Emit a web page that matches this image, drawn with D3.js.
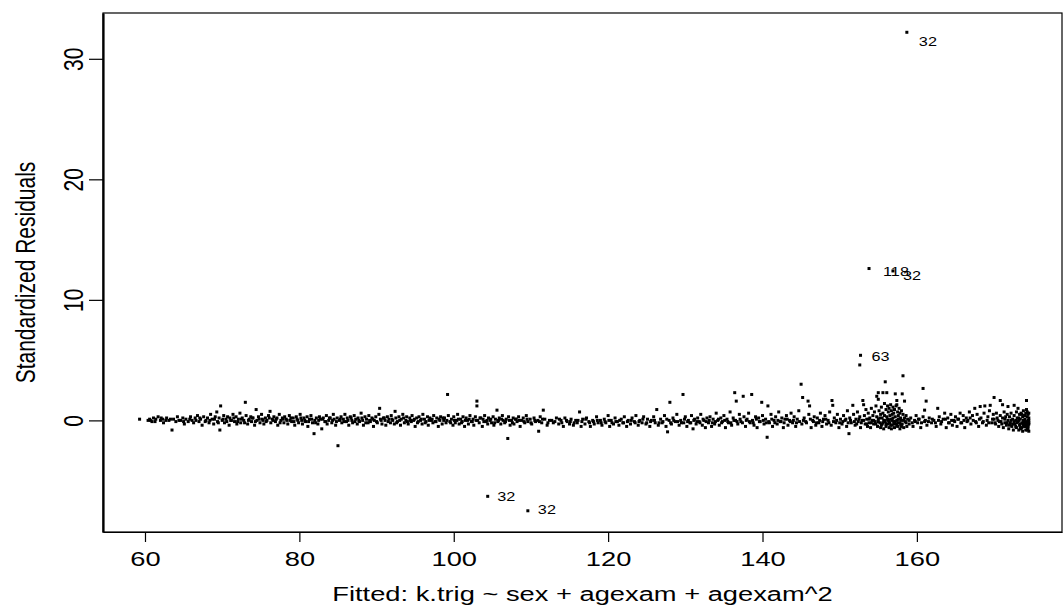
<!DOCTYPE html>
<html>
<head>
<meta charset="utf-8">
<script src="https://cdn.jsdelivr.net/npm/d3@7"></script>
<style>
  body { margin: 0; background: white; }
  text { font-family: "Liberation Sans", Arial, sans-serif; fill: black; }
</style>
</head>
<body>
<div id="graph"></div>
<script>
// tick labels and titles
const xTicks = [60, 80, 100, 120, 140, 160];
const yTicks = [0, 10, 20, 30];
const xTitle = "Fitted: k.trig ~ sex + agexam + agexam^2";
const yTitle = "Standardized Residuals";

// [fitted, standardized residual], left to right
const band60 = [[59.3,0.1],[60.4,0.0],[60.6,0.1],[60.9,-0.1],[61.1,0.2],[61.4,0.1],[61.7,0.3],[62.0,0.0],[62.3,0.1],[62.4,-0.2],[62.8,0.2],[63.1,0.0],[63.5,-0.8],[63.7,0.1],[64.0,-0.1],[64.2,0.3],[64.6,0.0],[64.9,0.2],[65.1,-0.3],[65.3,0.1],[65.6,-0.1],[65.9,0.3],[66.1,0.0],[66.3,-0.2],[66.5,0.2],[66.8,0.4],[67.0,-0.1],[67.2,0.1],[67.4,-0.4],[67.6,0.3],[67.9,0.0],[68.1,0.2],[68.3,-0.2],[68.5,0.5],[68.7,0.1],[68.9,-0.3],[69.1,0.3],[69.3,0.7],[69.4,-0.1],[69.6,0.2],[69.7,-0.8],[69.8,1.2],[70.0,0.0]];
const band70 = [[70.2,0.4],[70.3,-0.2],[70.5,0.1],[70.7,0.3],[70.9,-0.4],[71.0,0.2],[71.2,0.0],[71.4,0.5],[71.6,-0.1],[71.8,0.3],[71.9,-0.3],[72.1,0.1],[72.3,0.6],[72.4,-0.2],[72.6,0.2],[72.8,0.0],[73.0,1.5],[73.1,0.4],[73.3,-0.3],[73.5,0.1],[73.7,0.3],[73.8,-0.1],[74.0,0.2],[74.2,-0.4],[74.4,0.9],[74.5,0.0],[74.7,0.3],[74.9,-0.2],[75.1,0.5],[75.2,0.1],[75.4,-0.3],[75.6,0.2],[75.8,0.0],[76.0,0.4],[76.2,0.75],[76.3,-0.2],[76.5,0.1],[76.7,0.3],[76.9,-0.1],[77.1,0.2],[77.2,-0.4],[77.4,0.5],[77.6,0.0],[77.8,0.2],[78.0,-0.2],[78.1,0.3],[78.3,0.1],[78.5,-0.3],[78.7,0.4],[78.8,0.0],[79.0,-0.1],[79.2,0.2],[79.4,-0.4],[79.6,0.3],[79.7,0.1],[79.9,-0.2],[80.1,0.5],[80.3,0.0],[80.4,-0.3],[80.6,0.2],[80.8,-0.1],[81.0,0.3],[81.1,-0.5],[81.3,0.1],[81.5,0.4],[81.7,-0.2],[81.9,-1.1],[82.0,0.0],[82.2,0.2],[82.4,-0.3],[82.6,0.3],[82.7,0.1],[82.9,-0.7],[83.1,0.2],[83.3,-0.1],[83.5,0.4],[83.6,-0.3],[83.8,0.0],[84.0,0.2],[84.2,-0.2],[84.4,0.5],[84.5,0.1],[84.7,-0.4],[84.9,0.2],[85.0,-2.1]];
const band85 = [[85.2,0.0],[85.4,0.3],[85.5,-0.2],[85.7,0.1],[85.9,0.5],[86.1,-0.1],[86.2,0.2],[86.4,-0.4],[86.6,0.3],[86.8,0.0],[86.9,-0.2],[87.1,0.4],[87.3,0.1],[87.5,-0.3],[87.6,0.2],[87.8,-0.1],[88.0,0.6],[88.2,0.0],[88.3,-0.4],[88.5,0.3],[88.7,0.1],[88.9,-0.2],[89.0,0.4],[89.2,-0.1],[89.4,0.2],[89.6,-0.5],[89.7,0.0],[89.9,0.3],[90.1,-0.2],[90.3,0.5],[90.4,1.0],[90.5,0.1],[90.7,-0.3],[90.9,0.2],[91.1,0.0],[91.2,-0.4],[91.4,0.3],[91.6,0.1],[91.8,-0.2],[91.9,0.4],[92.1,0.0],[92.3,-0.3],[92.4,0.75],[92.5,0.2],[92.7,-0.1],[92.9,0.3],[93.1,-0.4],[93.2,0.1],[93.4,0.5],[93.6,-0.2],[93.8,0.0],[93.9,0.3],[94.1,-0.3],[94.3,0.2],[94.5,-0.1],[94.6,0.4],[94.8,0.0],[95.0,-0.5],[95.2,0.2],[95.3,-0.2],[95.5,0.3],[95.7,0.0],[95.9,-0.3],[96.0,0.5],[96.2,0.1],[96.4,-0.1],[96.6,0.3],[96.7,-0.4],[96.9,0.2],[97.1,0.0],[97.3,-0.2],[97.4,0.4],[97.6,-0.1],[97.8,0.2],[98.0,-0.5],[98.1,0.1],[98.3,0.3],[98.5,-0.3],[98.7,0.0],[98.8,0.2],[99.0,-0.2],[99.2,2.15],[99.3,0.4],[99.5,-0.1],[99.7,0.1],[99.9,-0.4]];
const band100 = [[100.0,0.3],[100.2,-0.2],[100.4,0.0],[100.5,0.5],[100.7,-0.3],[100.9,0.1],[101.1,-0.1],[101.2,0.3],[101.4,-0.5],[101.6,0.2],[101.8,0.0],[101.9,-0.3],[102.1,0.4],[102.3,-0.1],[102.5,0.1],[102.6,-0.4],[102.8,0.3],[103.0,1.6],[103.0,1.2],[103.1,0.0],[103.3,-0.2],[103.5,0.2],[103.7,-0.5],[103.8,0.1],[104.0,0.4],[104.2,-0.1],[104.4,-0.3],[104.5,0.2],[104.7,0.0],[104.9,-0.2],[105.1,0.3],[105.2,-0.4],[105.4,0.1],[105.6,0.85],[105.7,-0.1],[105.9,0.2],[106.1,-0.3],[106.3,0.4],[106.4,0.0],[106.6,-0.2],[106.8,0.1],[107.0,-1.5],[107.1,0.3],[107.3,-0.4],[107.5,0.0],[107.7,0.2],[107.8,-0.3],[108.0,0.1],[108.2,-0.1],[108.4,0.3],[108.6,-0.5],[108.8,0.0],[109.0,0.2],[109.2,-0.2],[109.4,0.4],[109.6,-0.1],[109.9,0.1],[110.1,-0.3],[110.4,0.2],[110.6,-0.1],[110.9,0.0],[111.0,-0.9],[111.2,0.3],[111.4,-0.2],[111.6,0.85],[111.8,0.1],[112.1,-0.4],[112.4,0.0],[112.9,-0.2],[113.3,0.2],[113.6,-0.3],[113.9,0.0],[114.2,-0.5],[114.4,0.2],[114.7,-0.1]];
const band115 = [[115.0,-0.3],[115.2,0.1],[115.5,-0.4],[115.8,0.0],[116.0,-0.2],[116.3,0.7],[116.5,-0.5],[116.7,0.1],[117.0,-0.3],[117.2,0.2],[117.5,-0.1],[117.7,-0.5],[118.0,0.0],[118.2,-0.3],[118.5,0.3],[118.7,-0.2],[119.0,0.0],[119.2,-0.4],[119.5,0.1],[119.7,-0.2],[120.0,0.4],[120.2,-0.5],[120.4,0.0],[120.7,-0.3],[120.9,0.2],[121.2,-0.1],[121.4,-0.4],[121.7,0.1],[121.9,-0.2],[122.1,0.3],[122.4,-0.5],[122.6,0.0],[122.9,-0.3],[123.1,0.2],[123.4,-0.1],[123.6,0.4],[123.9,-0.4],[124.1,0.0],[124.4,-0.2],[124.6,0.3],[124.9,-0.3],[125.1,0.1],[125.4,-0.5],[125.6,0.0],[125.9,0.3],[126.1,-0.2],[126.3,0.9],[126.5,-0.4],[126.8,0.1],[127.0,-0.2],[127.3,0.4],[127.5,-0.5],[127.7,-0.95],[127.9,0.0],[128.0,1.5],[128.2,-0.3],[128.4,0.2],[128.7,-0.1],[128.9,0.5],[129.2,-0.4],[129.4,0.0],[129.7,2.15],[129.8,-0.2]];
const band130 = [[130.0,0.3],[130.2,-0.5],[130.4,0.0],[130.6,-0.2],[130.8,0.4],[131.0,-0.7],[131.2,0.1],[131.4,-0.3],[131.6,0.2],[131.8,-0.1],[132.0,0.5],[132.2,-0.4],[132.4,0.0],[132.6,-0.6],[132.8,0.2],[133.0,-0.2],[133.2,0.3],[133.4,-0.5],[133.6,0.1],[133.8,-0.3],[134.0,0.6],[134.2,0.0],[134.4,-0.4],[134.6,0.2],[134.8,-0.1],[135.0,0.4],[135.2,-0.6],[135.4,0.1],[135.6,-0.2],[135.8,0.7],[136.0,-0.4],[136.2,0.2],[136.4,2.3],[136.5,0.0],[136.6,1.6],[136.8,-0.3],[137.0,0.5],[137.2,-0.1],[137.5,2.0],[137.6,0.3],[137.8,-0.5],[138.0,0.1],[138.2,0.6],[138.4,-0.2],[138.6,2.15],[138.7,0.0],[138.9,-0.4],[139.1,0.3],[139.3,-0.6],[139.5,0.2],[139.7,-0.1],[139.9,1.5],[140.0,0.4],[140.2,-0.3],[140.4,0.1],[140.6,-1.4],[140.7,1.2],[140.9,-0.2],[141.1,0.5],[141.3,-0.5],[141.5,0.0],[141.7,0.3],[141.9,-0.3],[142.1,0.7],[142.3,-0.1],[142.5,0.2],[142.7,-0.6],[142.9,0.1],[143.1,0.4],[143.3,-0.4],[143.5,0.0],[143.7,0.6],[143.9,-0.2],[144.1,0.3],[144.3,-0.5],[144.5,0.1],[144.7,0.8],[145.0,3.0],[145.1,-0.3],[145.2,1.9],[145.4,0.2],[145.6,-0.1],[145.9,1.6],[146.0,0.5],[146.1,1.2],[146.3,-0.6],[146.5,0.0],[146.7,0.3],[146.9,-0.4],[147.1,0.2],[147.3,-0.2],[147.5,0.6],[147.7,-0.5],[147.9,0.1],[148.1,0.4],[148.3,-0.3],[148.5,0.0],[148.7,0.7],[148.9,-0.4],[149.0,1.65],[149.1,1.25],[149.3,0.2],[149.5,-0.2],[149.7,0.5],[149.9,-0.6]];
const band150 = [[150.1,0.1],[150.3,-0.3],[150.5,0.4],[150.7,0.0],[150.9,-0.5],[151.0,0.8],[151.2,-1.1],[151.3,0.2],[151.5,-0.2],[151.7,1.25],[151.8,0.5],[152.0,-0.4],[152.1,0.1],[152.3,0.7],[152.4,-0.1],[152.6,0.3],[152.7,-0.6],[152.9,0.0],[153.0,1.65],[153.1,1.3],[153.2,0.4],[153.3,-0.3],[153.4,0.9],[153.5,0.1],[153.6,-0.5],[153.7,0.6],[153.8,-0.2],[153.9,0.2],[154.0,-0.6],[154.1,1.0],[154.2,0.0],[154.3,0.4],[154.4,-0.3],[154.5,0.7],[154.6,-0.1],[154.7,1.2],[154.8,2.0],[154.8,0.3],[154.9,-0.5],[155.0,2.3],[155.0,1.75],[155.0,0.1],[155.1,0.8],[155.2,-0.2],[155.3,0.5],[155.3,-0.6],[155.4,1.1],[155.5,0.2],[155.5,-0.3],[155.6,2.3],[155.6,0.6],[155.7,0.0],[155.7,-0.7],[155.8,1.4],[155.8,0.4],[155.9,3.2],[155.9,-0.1],[156.0,0.9],[156.0,-0.5],[156.1,2.3],[156.1,0.3],[156.2,1.2],[156.2,-0.3],[156.3,0.7],[156.3,0.0],[156.4,-0.6],[156.4,1.0],[156.5,0.4],[156.5,-0.2],[156.6,1.3],[156.6,0.1],[156.7,-0.7],[156.7,0.8],[156.8,0.5],[156.8,-0.4],[156.9,1.1],[156.9,0.2],[157.0,-0.1],[157.0,0.6],[157.1,-0.6],[157.1,0.9],[157.2,2.2],[157.2,0.3],[157.3,-0.3],[157.3,1.2],[157.4,1.65],[157.4,1.3],[157.4,0.0],[157.5,0.7],[157.5,-0.5],[157.6,0.4],[157.6,-0.2],[157.7,1.0],[157.7,0.1],[157.8,-0.7],[157.8,0.6],[157.9,0.2],[157.9,-0.4],[158.0,0.8],[158.0,0.0],[158.1,2.2],[158.1,-0.3],[158.2,3.7],[158.2,0.5],[158.3,-0.6],[158.4,1.6],[158.4,0.2],[158.5,-0.1],[158.6,0.4],[158.7,-0.5],[158.8,0.1]];
const band159 = [[159.0,-0.3],[159.2,0.2],[159.5,-0.5],[159.7,0.0],[159.9,0.4],[160.1,-0.2],[160.3,0.1],[160.5,-0.6],[160.8,2.65],[160.8,0.3],[161.0,0.85],[161.0,-0.1],[161.2,1.6],[161.3,-0.4],[161.6,0.2],[161.9,-0.2],[162.2,0.0],[162.5,-0.5],[162.7,1.0],[162.9,0.3],[163.1,-0.3],[163.4,0.1],[163.6,0.6],[163.8,-0.6],[164.0,0.2],[164.2,-0.2],[164.4,0.5],[164.6,-0.4],[164.8,0.0],[165.0,0.3],[165.2,-0.5],[165.4,0.1],[165.6,0.6],[165.8,-0.2],[166.0,0.4],[166.2,-0.6],[166.4,0.2],[166.6,0.0],[166.8,0.7],[167.0,-0.3],[167.2,0.4],[167.5,1.0],[167.6,-0.1],[167.8,0.5],[168.0,-0.5],[168.2,1.15],[168.3,0.2],[168.5,-0.2],[168.7,0.6],[168.8,1.2],[169.0,-0.4],[169.2,0.3],[169.4,0.8],[169.5,1.25],[169.7,-0.2],[169.9,0.5]];
const band170 = [[170.0,1.9],[170.0,0.1],[170.2,-0.3],[170.3,0.6],[170.5,0.0],[170.6,-0.5],[170.8,1.65],[170.8,0.4],[170.9,-0.1],[171.1,1.3],[171.1,0.2],[171.2,-0.6],[171.3,0.7],[171.4,-0.2],[171.5,0.3],[171.6,-0.4],[171.7,0.5],[171.8,1.15],[171.8,0.0],[171.9,-0.7],[172.0,0.3],[172.1,-0.2],[172.2,0.6],[172.3,-0.5],[172.4,0.1],[172.5,-0.8],[172.6,1.25],[172.6,0.4],[172.7,-0.3],[172.8,0.0],[172.9,0.7],[172.9,-0.6],[173.0,0.2],[173.1,1.0],[173.1,-0.1],[173.2,-0.8],[173.3,0.5],[173.3,-0.4],[173.4,0.1],[173.5,-0.7],[173.5,0.6],[173.6,-0.2],[173.7,0.3],[173.7,-0.9],[173.8,0.0],[173.8,0.8],[173.9,-0.5],[173.9,0.4],[174.0,-0.3],[174.0,0.1],[174.1,-0.8],[174.1,0.6],[174.2,1.65],[174.2,0.9],[174.2,-0.1],[174.3,-0.6],[174.3,0.3],[174.4,0.0],[174.4,-0.4],[174.4,0.5],[174.5,-0.9],[174.5,0.2],[174.5,-0.2],[174.3,0.7],[174.1,-0.5],[174.0,0.4],[173.9,-0.1],[173.6,0.5],[173.4,-0.6],[173.2,0.2],[174.4,-0.7],[174.5,0.6],[174.2,-0.3],[173.8,-0.4],[174.5,0.0],[174.3,-0.8]];
// the crowded middle of the band
const bandCore = [[60.7,0.0],[61.3,-0.1],[62.1,0.2],[62.7,0.0],[63.3,0.1],[64.4,0.0],[65.0,-0.1],[65.8,0.1],[66.6,0.0],[67.1,0.2],[67.8,-0.1],[68.4,0.0],[69.0,0.1],[69.5,-0.2],[70.1,0.1],[70.6,-0.1],[71.1,0.0],[71.5,0.2],[72.0,-0.1],[72.5,0.1],[72.9,-0.2],[73.4,0.0],[73.9,0.2],[74.3,-0.1],[74.8,0.1],[75.3,0.0],[75.7,-0.1],[76.1,0.2],[76.6,0.0],[77.0,0.1],[77.5,-0.2],[77.9,0.1],[78.4,0.0],[78.9,0.2],[79.3,-0.1],[79.8,0.0],[80.2,0.2],[80.7,0.0],[81.2,-0.1],[81.6,0.1],[82.1,-0.2],[82.5,0.0],[83.0,0.1],[83.4,-0.1],[83.9,0.2],[84.3,0.0],[84.8,-0.1],[85.3,0.1],[85.8,-0.1],[86.3,0.0],[86.7,0.2],[87.2,-0.1],[87.7,0.0],[88.1,0.2],[88.6,-0.2],[89.1,0.0],[89.5,0.1],[90.0,-0.1],[90.6,0.0],[91.0,0.2],[91.5,-0.1],[92.0,0.1],[92.6,-0.2],[93.0,0.0],[93.5,0.2],[94.0,-0.1],[94.4,0.0],[94.9,0.1],[95.4,-0.1],[95.8,0.1],[96.3,-0.2],[96.8,0.0],[97.2,0.1],[97.7,-0.1],[98.2,0.0],[98.6,0.2],[99.1,0.0],[99.6,-0.2],[100.1,0.0],[100.6,0.1],[101.0,-0.2],[101.5,0.0],[102.0,0.1],[102.4,-0.1],[102.9,0.0],[103.4,0.2],[103.9,-0.1],[104.3,0.0],[104.8,0.1],[105.3,-0.2],[105.8,0.0],[106.2,0.1],[106.7,-0.1],[107.2,0.0],[107.6,-0.2],[108.1,0.1],[108.5,0.0],[109.1,-0.1],[109.5,0.1],[110.0,-0.2],[110.5,0.0],[111.1,-0.1],[111.5,0.1],[112.2,-0.2],[112.7,0.0],[113.1,-0.1],[113.7,0.1],[114.0,-0.2],[114.6,0.0],[115.1,-0.1],[115.6,-0.2],[116.1,0.0],[116.6,-0.1],[117.1,0.1],[117.6,-0.2],[118.1,-0.1],[118.6,0.0],[119.1,-0.2],[119.6,-0.1],[120.1,0.0],[120.5,-0.2],[121.0,-0.1],[121.5,0.0],[122.0,-0.2],[122.5,-0.1],[123.0,0.0],[123.5,-0.2],[124.0,-0.1],[124.5,0.1],[125.0,-0.2],[125.5,-0.1],[126.0,0.0],[126.6,-0.2],[127.1,-0.1],[127.6,0.1],[128.1,-0.2],[128.5,0.0],[129.0,-0.1],[129.5,-0.2],[129.9,0.1],[130.3,-0.1],[130.7,-0.2],[131.1,0.0],[131.5,-0.1],[131.9,-0.2],[132.3,0.1],[132.7,-0.1],[133.1,0.0],[133.5,-0.2],[133.9,-0.1],[134.3,0.1],[134.7,-0.2],[135.1,0.0],[135.5,-0.1],[135.9,-0.2],[136.3,0.0],[136.7,-0.1],[137.1,0.1],[137.4,-0.2],[137.9,0.0],[138.3,-0.1],[138.8,-0.2],[139.2,0.1],[139.6,-0.1],[140.1,0.0],[140.5,-0.2],[140.8,-0.1],[141.2,0.1],[141.6,-0.2],[142.0,0.0],[142.4,-0.1],[142.8,-0.2],[143.2,0.1],[143.6,-0.1],[144.0,0.0],[144.4,-0.2],[144.8,-0.1],[145.3,0.0],[145.7,-0.2],[146.2,0.1],[146.6,-0.1],[147.0,-0.2],[147.4,0.0],[147.8,-0.1],[148.2,0.1],[148.6,-0.2],[149.2,-0.1],[149.6,0.0],[150.0,-0.2],[150.4,-0.1],[150.8,0.1],[151.1,-0.2],[151.4,0.0],[151.9,-0.1],[152.2,-0.3],[152.5,0.1],[152.8,-0.2],[153.1,0.0],[153.5,-0.3],[153.8,0.1],[154.1,-0.2],[154.4,0.0],[154.7,-0.3],[155.0,-0.1],[155.2,0.2],[155.4,-0.4],[155.6,-0.2],[155.8,0.0],[156.0,-0.3],[156.2,0.1],[156.4,-0.1],[156.6,-0.4],[156.8,0.0],[157.0,-0.3],[157.2,-0.1],[157.4,-0.4],[157.6,0.1],[157.8,-0.2],[158.0,-0.5],[158.3,0.0],[158.6,-0.2],[159.0,0.0],[159.4,-0.2],[159.8,-0.1],[160.2,0.1],[160.6,-0.2],[161.1,0.0],[161.5,-0.1],[162.0,0.1],[162.4,-0.2],[162.8,0.0],[163.2,-0.1],[163.7,0.1],[164.1,-0.2],[164.5,0.0],[164.9,-0.1],[165.3,0.1],[165.7,-0.2],[166.1,0.0],[166.5,-0.1],[166.9,0.2],[167.3,0.0],[167.7,-0.2],[168.1,0.1],[168.6,-0.1],[169.1,0.0],[169.3,-0.2],[169.8,0.1],[170.1,-0.2],[170.4,0.2],[170.7,-0.1],[171.0,-0.3],[171.4,0.1],[171.7,-0.2],[172.0,-0.4],[172.2,0.0],[172.4,-0.3],[172.6,-0.1],[172.8,-0.5],[173.0,-0.2],[173.2,0.0],[173.4,-0.3],[173.6,-0.6],[173.8,-0.2],[174.0,-0.5],[174.2,-0.2],[174.4,-0.5],[174.5,-0.3]];

// the far points and their id labels
const farFitted = [158.7, 153.8, 156.9, 152.7, 152.6, 104.4, 109.6];
const farResid  = [32.2, 12.6, 12.4, 5.4, 4.6, -6.3, -7.5];
const farIds    = ["32", "118", "32", "63", "", "32", "32"];
// label nudges in px: [dx, dy]
const idNudge = [[12, 9.5], [14, 3], [10, 4.5], [11, 1], [0, 0], [9.5, 0], [10, -1.6]];

const width = 1064, height = 606;
const plot = { left: 103, right: 1062, top: 13, bottom: 532 };
const sx = 1.3; // horizontal stretch of the original picture

const x = d3.scaleLinear().domain([54.56, 178.8]).range([plot.left, plot.right]);
const y = d3.scaleLinear().domain([-9.26, 33.8]).range([plot.bottom, plot.top]);

const svg = d3.select('#graph').append('svg')
  .attr('width', width)
  .attr('height', height)
  .style('background', 'white');

const points = [].concat(band60, band70, band85, band100, band115, band130, band150, band159, band170, bandCore)
  .concat(farFitted.map((f, i) => [f, farResid[i]]));

svg.append('g')
  .selectAll('rect')
  .data(points)
  .enter().append('rect')
  .attr('x', d => x(d[0]) - 1.5)
  .attr('y', d => y(d[1]) - 1.5)
  .attr('width', 3)
  .attr('height', 3)
  .style('fill', 'black');

svg.append('g')
  .selectAll('text')
  .data(farIds.map((id, i) => ({ id: id, f: farFitted[i], r: farResid[i], n: idNudge[i] })).filter(d => d.id))
  .enter().append('text')
  .attr('transform', d => `translate(${x(d.f) + d.n[0]},${y(d.r) + d.n[1]}) scale(${sx},1)`)
  .attr('dy', '0.36em')
  .style('font-size', '12.5px')
  .text(d => d.id);

// box
svg.append('rect')
  .attr('x', plot.left)
  .attr('y', plot.top)
  .attr('width', plot.right - plot.left)
  .attr('height', plot.bottom - plot.top)
  .style('fill', 'none')
  .style('stroke', 'black')
  .style('stroke-width', 1.2);

// x axis
const xAxis = svg.append('g')
  .attr('transform', `translate(0,${plot.bottom})`)
  .call(d3.axisBottom(x).tickValues(xTicks).tickSize(10).tickPadding(9).tickSizeOuter(0));
xAxis.select('.domain').style('stroke-width', 1.2);
xAxis.selectAll('.tick line').style('stroke-width', 1.2);
xAxis.selectAll('.tick text')
  .style('font-size', '21px')
  .style('font-family', '"Liberation Sans", Arial, sans-serif')
  .attr('transform', `scale(${sx},1)`)
  .attr('x', 0);

// y axis
const yAxis = svg.append('g')
  .attr('transform', `translate(${plot.left},0)`)
  .call(d3.axisLeft(y).tickValues(yTicks).tickSize(14).tickSizeOuter(0));
yAxis.select('.domain').style('stroke-width', 2.2);
yAxis.selectAll('.tick line').style('stroke-width', 1.2);
yAxis.selectAll('.tick text')
  .style('font-size', '21px')
  .style('font-family', '"Liberation Sans", Arial, sans-serif')
  .attr('x', null)
  .attr('dy', null)
  .attr('text-anchor', 'middle')
  .attr('transform', `translate(-30,0) rotate(-90) scale(1,${sx}) translate(0,7.5)`);

// titles
svg.append('text')
  .attr('transform', `translate(${(plot.left + plot.right) / 2},601) scale(${sx},1)`)
  .attr('text-anchor', 'middle')
  .style('font-size', '21px')
  .text(xTitle);

svg.append('text')
  .attr('transform', `translate(25,${(plot.top + plot.bottom) / 2}) rotate(-90) scale(1,${sx}) translate(0,7.5)`)
  .attr('text-anchor', 'middle')
  .style('font-size', '21px')
  .text(yTitle);
</script>
</body>
</html>
